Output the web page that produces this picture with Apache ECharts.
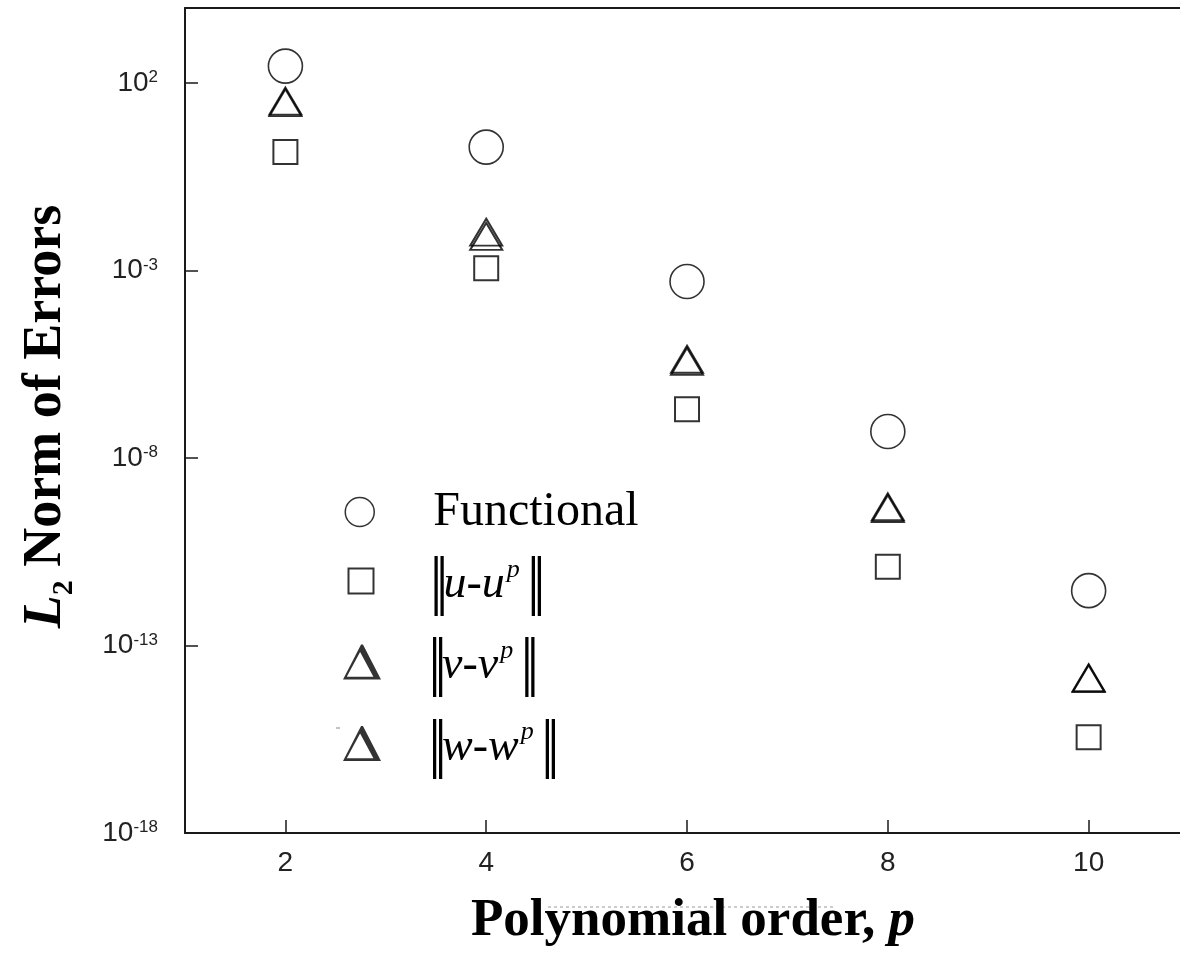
<!DOCTYPE html>
<html><head><meta charset="utf-8">
<script src="https://cdn.jsdelivr.net/npm/echarts@6/dist/echarts.min.js"></script>
<style>html,body{margin:0;padding:0;background:#fff}#c{width:1180px;height:953px}</style>
</head><body><div id="c"></div>
<script>
// ---- data ----
const orders = [2, 4, 6, 8, 10];
const functionalErr = [282, 1.95, 5.1e-4, 5.1e-8, 2.9e-12];
const uErr = [1.45, 1.15e-3, 2.0e-7, 1.26e-11, 3.6e-16];
const vErr = [33, 1.05e-2, 4.3e-6, 5.0e-10, 1.38e-14];
const wErr = [30, 8.1e-3, 3.8e-6, 4.5e-10, 1.32e-14];
const xTicks = [2, 4, 6, 8, 10];
const yTickExponents = [-18, -13, -8, -3, 2];

const toPts = arr => orders.map((p, i) => [p, Math.log10(arr[i])]);

const serif = 'Liberation Serif';
const sans = 'Liberation Sans';
const axisColor = '#1a1a1a';
const deltaPath = 'path://M19,0 L21,0 L40,37 L0,37 Z M18,8 L4,34 L32,34 Z';

const legendRich = {
  sp1: { width: 54 }, sp2: { width: 51 }, sp3: { width: 42 },
  t: { fontFamily: serif, fontSize: 48, color: '#000', lineHeight: 64 },
  b1: { fontFamily: serif, fontSize: 66, color: '#000', lineHeight: 64, width: 6 },
  b2: { fontFamily: serif, fontSize: 66, color: '#000', lineHeight: 64, width: 8 },
  it: { fontFamily: serif, fontStyle: 'italic', fontSize: 46, color: '#000', lineHeight: 64 },
  sup: { fontFamily: serif, fontStyle: 'italic', fontSize: 26, color: '#000', lineHeight: 26, padding: [0, 7, 30, 2] }
};
const normLabel = (sp, s) => '{' + sp + '|}{b1||}{b2||}{it|' + s + '-' + s + '}{sup|p}{b1||}{b2||}';

function mkLegend(name, icon, w, h, left, top, formatter, style, pad) {
  return {
    data: [{ name: name, icon: icon }],
    left: left, top: top, padding: 0,
    itemWidth: w, itemHeight: h,
    selectedMode: false,
    itemStyle: style,
    textStyle: { rich: legendRich, padding: pad || 0 },
    formatter: formatter
  };
}

const chart = echarts.init(document.getElementById('c'));
chart.setOption({
  backgroundColor: '#fff',
  animation: false,
  grid: { left: 185, top: 8, right: 0, height: 825 },
  xAxis: [{
    type: 'value', min: 1, max: 10.91, position: 'bottom',
    axisLine: { show: true, onZero: false, lineStyle: { color: axisColor, width: 2 } },
    axisTick: { show: true, inside: true, length: 13, customValues: xTicks, lineStyle: { color: axisColor, width: 1.5 } },
    axisLabel: { customValues: xTicks, margin: 16, fontFamily: sans, fontSize: 28, color: '#222' },
    splitLine: { show: false },
    name: '{b|Polynomial order, }{bi|p}',
    nameLocation: 'middle', nameGap: 62,
    nameTextStyle: {
      padding: [0, 0, 0, 21],
      rich: {
        b: { fontFamily: serif, fontWeight: 'bold', fontSize: 53, color: '#000', lineHeight: 53 },
        bi: { fontFamily: serif, fontWeight: 'bold', fontStyle: 'italic', fontSize: 53, color: '#000', lineHeight: 53 }
      }
    }
  }, {
    type: 'value', min: 1, max: 10.91, position: 'top',
    axisLine: { show: true, onZero: false, lineStyle: { color: axisColor, width: 2 } },
    axisTick: { show: false }, axisLabel: { show: false }, splitLine: { show: false }
  }],
  yAxis: {
    type: 'value', min: -18, max: 4,
    axisLine: { show: true, onZero: false, lineStyle: { color: axisColor, width: 2 } },
    axisTick: { show: true, inside: true, length: 13, customValues: yTickExponents, lineStyle: { color: axisColor, width: 1.5 } },
    axisLabel: {
      customValues: yTickExponents, margin: 27,
      formatter: v => '{b|10}{s|' + v + '}',
      rich: {
        b: { fontFamily: sans, fontSize: 28, color: '#222', lineHeight: 28 },
        s: { fontFamily: sans, fontSize: 17, color: '#222', verticalAlign: 'top', lineHeight: 16 }
      }
    },
    splitLine: { show: false },
    name: '{l|L}{sub|2}{n| Norm of Errors}',
    nameLocation: 'middle', nameGap: 106, nameRotate: 90,
    nameTextStyle: {
      padding: [0, 0, 0, 8],
      rich: {
        l: { fontFamily: serif, fontWeight: 'bold', fontStyle: 'italic', fontSize: 54, color: '#000', lineHeight: 60, padding: [0, 0, 6, 0] },
        sub: { fontFamily: serif, fontWeight: 'bold', fontSize: 30, color: '#000', verticalAlign: 'bottom', lineHeight: 14 },
        n: { fontFamily: serif, fontWeight: 'bold', fontSize: 54, color: '#000', lineHeight: 60, padding: [0, 0, 6, 0] }
      }
    }
  },
  legend: [
    mkLegend('Functional', 'circle', 29, 29, 344.5, 488, () => '{sp1|}{t|Functional}',
      { color: 'rgba(255,255,255,0)', borderColor: '#000', borderWidth: 1.5 }),
    mkLegend('u', 'rect', 25, 25, 347.5, 552, () => normLabel('sp2', 'u'),
      { color: 'rgba(255,255,255,0)', borderColor: '#000', borderWidth: 2 }, [8, 0, 0, 0]),
    mkLegend('v', deltaPath, 38, 37, 343, 633, () => normLabel('sp3', 'v'),
      { color: '#000', borderWidth: 0 }, [8, 0, 0, 0]),
    mkLegend('w', deltaPath, 38, 37, 343, 714.5, () => normLabel('sp3', 'w'),
      { color: '#000', borderWidth: 0 }, [8, 0, 0, 0])
  ],
  graphic: [{
    type: 'line', silent: true,
    shape: { x1: 548, y1: 907, x2: 833, y2: 907 },
    style: { stroke: '#9a9a9a', lineWidth: 1, lineDash: [3, 3] }
  }, {
    type: 'line', silent: true,
    shape: { x1: 336, y1: 728, x2: 340, y2: 728 },
    style: { stroke: '#888', lineWidth: 1 }
  }],
  series: [
    { name: 'Functional', type: 'scatter', symbol: 'circle', symbolSize: 34, data: toPts(functionalErr),
      itemStyle: { color: 'rgba(255,255,255,0)', borderColor: '#000', borderWidth: 1.6 } },
    { name: 'u', type: 'scatter', symbol: 'rect', symbolSize: 24, data: toPts(uErr),
      itemStyle: { color: 'rgba(255,255,255,0)', borderColor: '#000', borderWidth: 2 } },
    { name: 'v', type: 'scatter', symbol: 'triangle', symbolSize: [32, 27], data: toPts(vErr),
      itemStyle: { color: 'rgba(255,255,255,0)', borderColor: '#000', borderWidth: 2 } },
    { name: 'w', type: 'scatter', symbol: 'triangle', symbolSize: [32, 27], data: toPts(wErr),
      itemStyle: { color: 'rgba(255,255,255,0)', borderColor: '#000', borderWidth: 2 } }
  ].map(s => Object.assign(s, { emphasis: { disabled: true }, silent: true }))
});
</script></body></html>
